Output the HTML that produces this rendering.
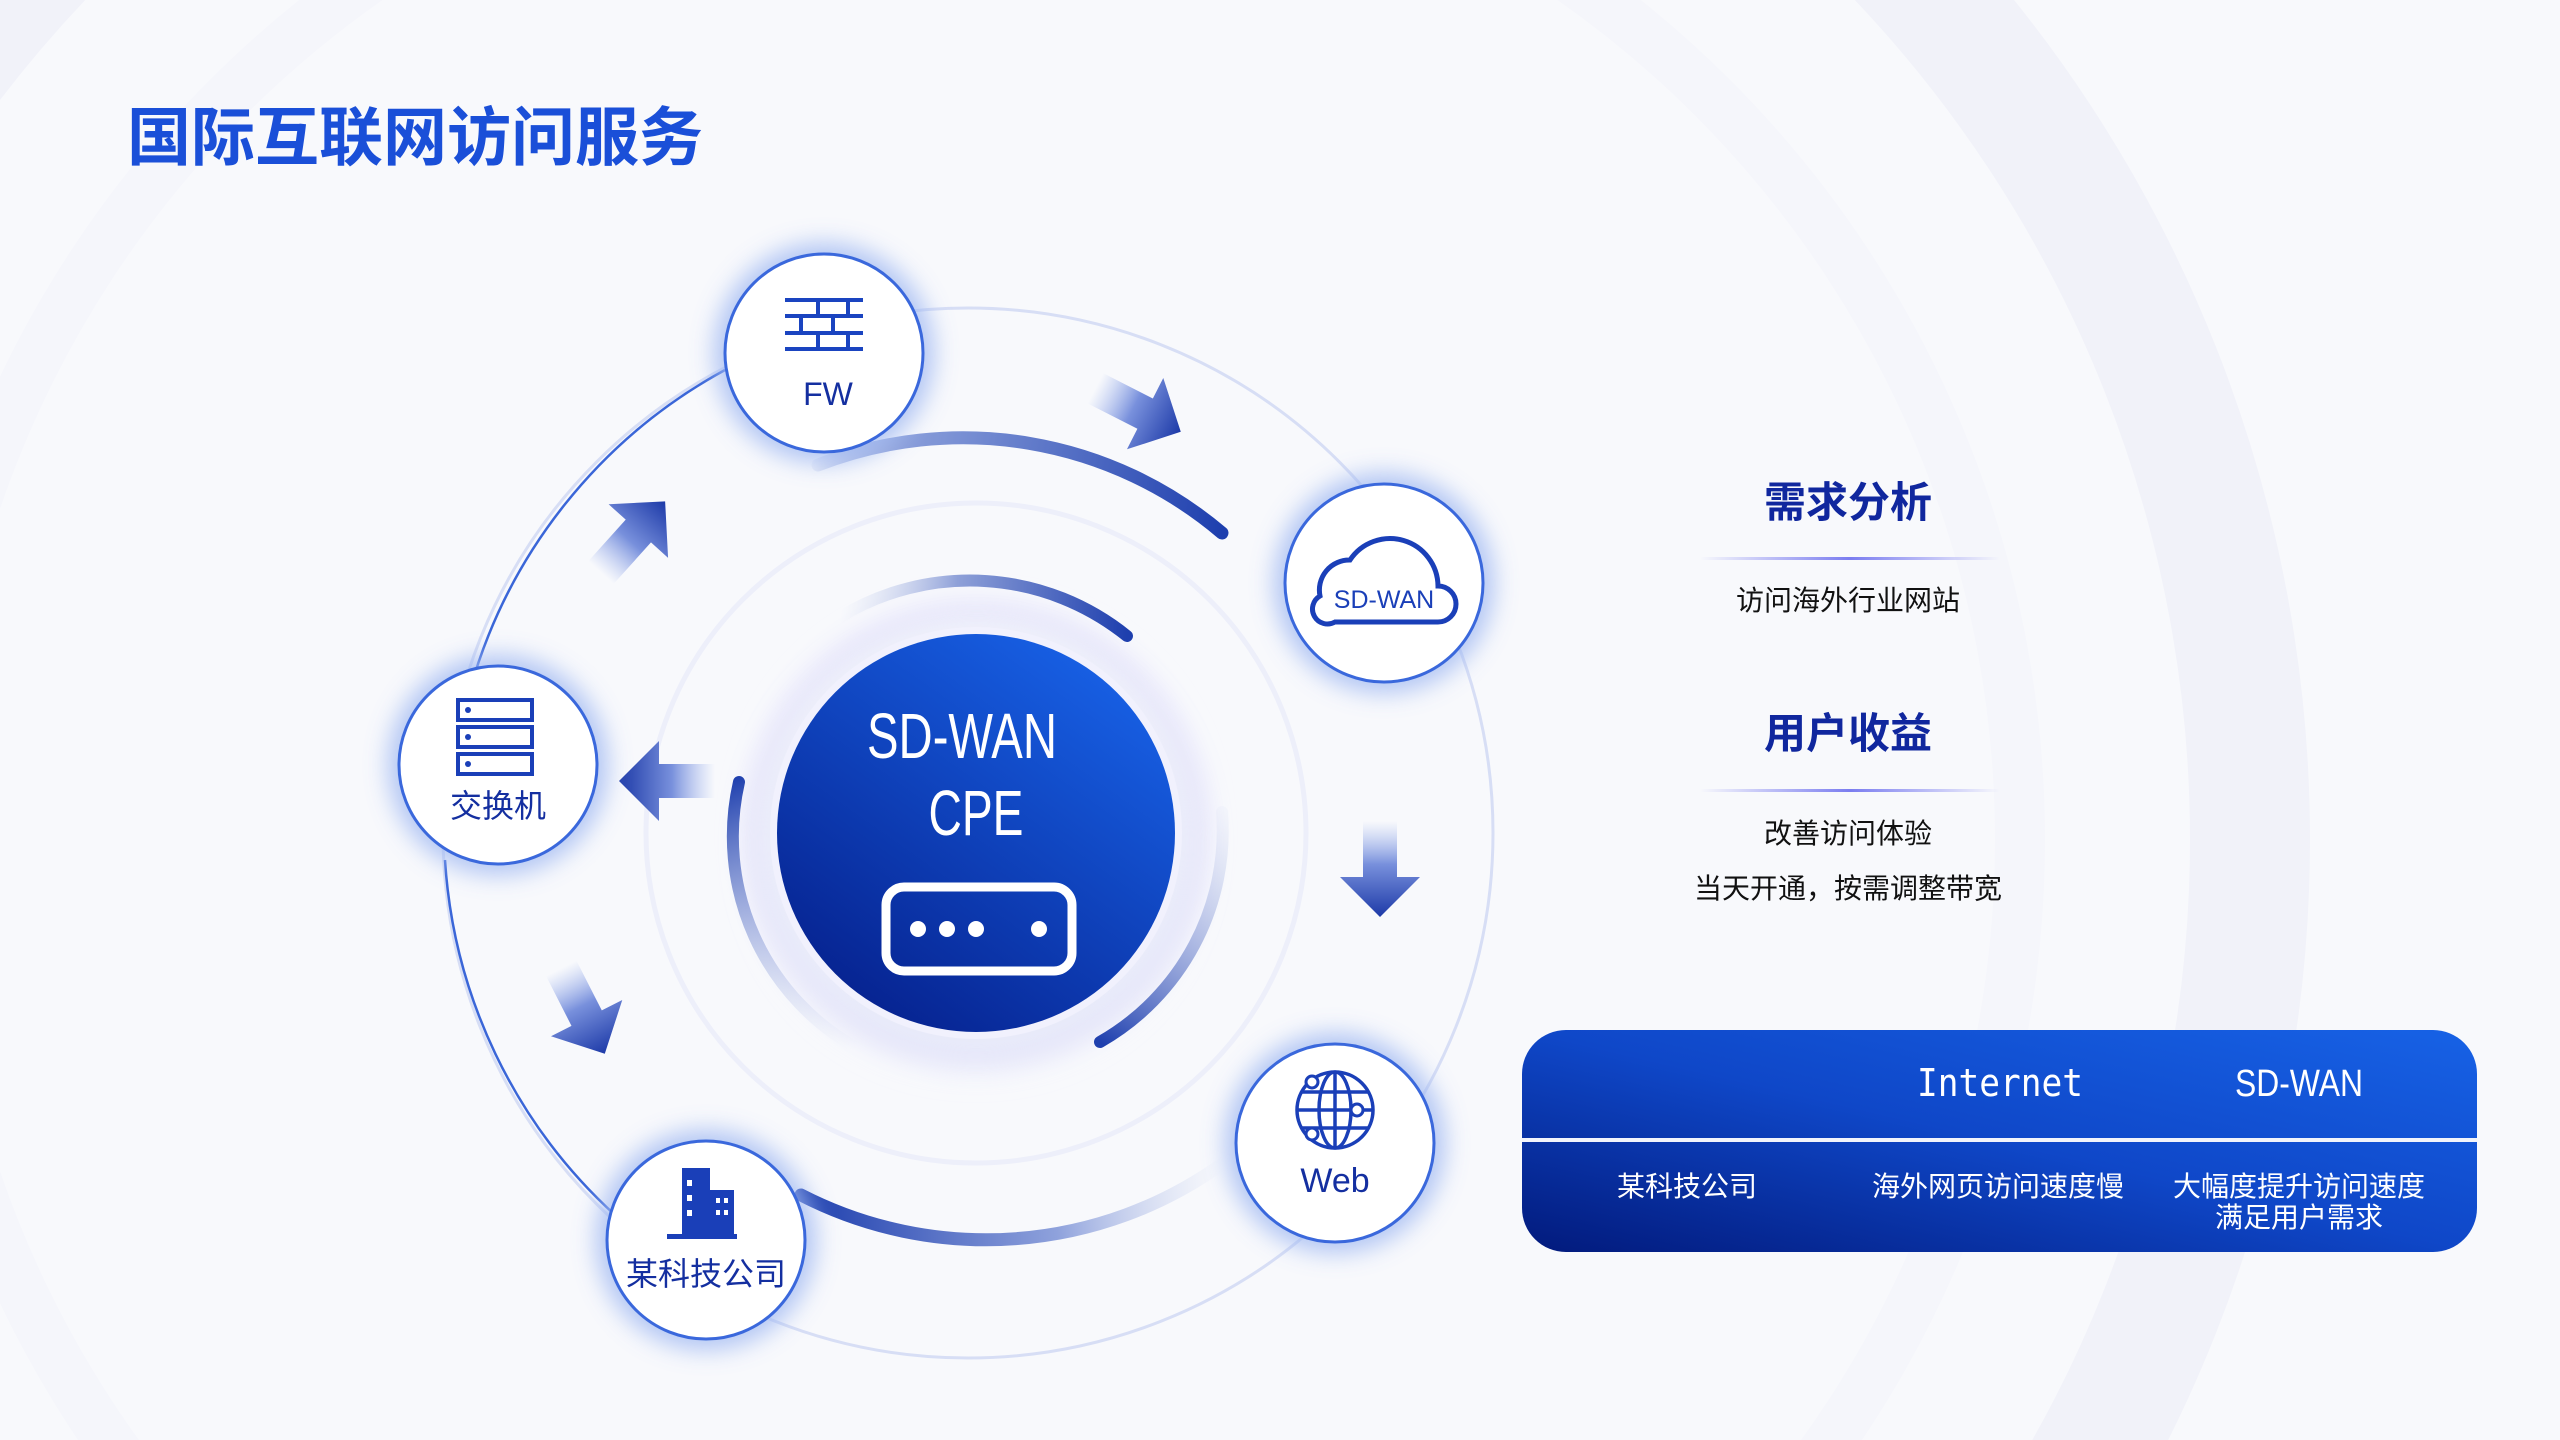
<!DOCTYPE html>
<html><head><meta charset="utf-8"><style>
html,body{margin:0;padding:0;overflow:hidden}
body{width:2560px;height:1440px;overflow:hidden;background:#f8f9fc;font-family:"Liberation Sans","Noto Sans CJK SC",sans-serif;position:relative}
svg{position:absolute;left:0;top:0;display:block}
</style></head><body>
<svg width="2560" height="1440" viewBox="0 0 2560 1440" xmlns="http://www.w3.org/2000/svg" overflow="hidden">
<defs>
<linearGradient id="cpe" x1="0.8" y1="0.1" x2="0.2" y2="0.95"><stop offset="0" stop-color="#175ee2"/><stop offset="1" stop-color="#06228f"/></linearGradient>
<linearGradient id="tbl" x1="0" y1="1" x2="1" y2="0"><stop offset="0" stop-color="#021a7c"/><stop offset="0.5" stop-color="#0f47c8"/><stop offset="1" stop-color="#1762e6"/></linearGradient>
<linearGradient id="arcA" gradientUnits="userSpaceOnUse" x1="809" y1="450" x2="1222" y2="533"><stop offset="0" stop-color="#1e44b8" stop-opacity="0"/><stop offset="0.3" stop-color="#7f95d6"/><stop offset="1" stop-color="#1e3fae"/></linearGradient>
<linearGradient id="arcB" gradientUnits="userSpaceOnUse" x1="801" y1="1195" x2="1222" y2="1164"><stop offset="0" stop-color="#1e3fae"/><stop offset="0.6" stop-color="#8fa2dc"/><stop offset="1" stop-color="#c8d2f0" stop-opacity="0"/></linearGradient>
<linearGradient id="arcC" gradientUnits="userSpaceOnUse" x1="840" y1="617" x2="1127" y2="636"><stop offset="0" stop-color="#d0d8f2" stop-opacity="0"/><stop offset="0.4" stop-color="#8ea0d8"/><stop offset="1" stop-color="#1e3fae"/></linearGradient>
<linearGradient id="arcD" gradientUnits="userSpaceOnUse" x1="730" y1="780" x2="850" y2="1050"><stop offset="0" stop-color="#1e3fae"/><stop offset="1" stop-color="#c8d2f0" stop-opacity="0"/></linearGradient>
<linearGradient id="arcE" gradientUnits="userSpaceOnUse" x1="1100" y1="1042" x2="1226" y2="810"><stop offset="0" stop-color="#1e3fae"/><stop offset="1" stop-color="#c8d2f0" stop-opacity="0.1"/></linearGradient>
<linearGradient id="arr" x1="0" y1="0" x2="1" y2="0"><stop offset="0" stop-color="#9fb4ee" stop-opacity="0"/><stop offset="0.45" stop-color="#7890dc"/><stop offset="1" stop-color="#1d3aa8"/></linearGradient>
<linearGradient id="line" x1="0" y1="0" x2="1" y2="0"><stop offset="0" stop-color="#7b7df0" stop-opacity="0"/><stop offset="0.5" stop-color="#7b7df0"/><stop offset="1" stop-color="#7b7df0" stop-opacity="0"/></linearGradient>
<filter id="blur" x="-50%" y="-50%" width="200%" height="200%"><feGaussianBlur stdDeviation="12"/></filter>
<filter id="blur2" x="-50%" y="-50%" width="200%" height="200%"><feGaussianBlur stdDeviation="20"/></filter>
<g id="arrow"><polygon points="-48,-17 8,-17 8,-40 48,0 8,40 8,17 -48,17" fill="url(#arr)"/></g>
<g id="node"><circle r="110" fill="#9fb8f2" opacity="0.8" filter="url(#blur)"/><circle r="99" fill="#fff" stroke="#3a68dc" stroke-width="3"/></g>
</defs>
<rect width="2560" height="1440" fill="#f8f9fc"/>
<circle cx="970" cy="840" r="1280" fill="none" stroke="#f1f2f9" stroke-width="120"/>
<circle cx="970" cy="840" r="1050" fill="none" stroke="#f5f6fb" stroke-width="50"/>
<text x="127" y="160" font-size="64" font-weight="bold" fill="#1a4fd8">国际互联网访问服务</text>
<circle cx="968" cy="833" r="525" fill="none" stroke="#d7def5" stroke-width="3"/>
<path d="M 470 690 A 525 525 0 0 1 725 370" fill="none" stroke="#3a66d8" stroke-width="2.5"/>
<path d="M 445 860 A 525 525 0 0 0 615 1215" fill="none" stroke="#3a66d8" stroke-width="2.5"/>
<circle cx="976" cy="833" r="330" fill="none" stroke="#edeffa" stroke-width="5"/>
<circle cx="976" cy="833" r="222" fill="none" stroke="#e6e5fb" stroke-width="22" filter="url(#blur)"/>
<circle cx="976" cy="845" r="215" fill="#dfe3f7" opacity="0.6" filter="url(#blur2)"/>
<path d="M 818 465 A 400 400 0 0 1 1222 533" fill="none" stroke="url(#arcA)" stroke-width="13" stroke-linecap="round"/>
<path d="M 801 1195 A 405 405 0 0 0 1222 1164" fill="none" stroke="url(#arcB)" stroke-width="13" stroke-linecap="round"/>
<path d="M 840 617 A 250 250 0 0 1 1127 636" fill="none" stroke="url(#arcC)" stroke-width="12" stroke-linecap="round"/>
<path d="M 739 782 A 243 243 0 0 0 860 1050" fill="none" stroke="url(#arcD)" stroke-width="12" stroke-linecap="round"/>
<path d="M 1100 1042 A 243 243 0 0 0 1222 812" fill="none" stroke="url(#arcE)" stroke-width="12" stroke-linecap="round"/>
<circle cx="976" cy="833" r="206" fill="#f1f1fd"/>
<circle cx="976" cy="833" r="199" fill="url(#cpe)"/>
<text x="962" y="758" font-size="64" fill="#fff" text-anchor="middle" textLength="190" lengthAdjust="spacingAndGlyphs">SD-WAN</text>
<text x="976" y="835" font-size="64" fill="#fff" text-anchor="middle" textLength="95" lengthAdjust="spacingAndGlyphs">CPE</text>
<rect x="886" y="887" width="186" height="84" rx="18" fill="none" stroke="#fff" stroke-width="9"/>
<circle cx="918" cy="929" r="8" fill="#fff"/><circle cx="947" cy="929" r="8" fill="#fff"/><circle cx="976" cy="929" r="8" fill="#fff"/><circle cx="1039" cy="929" r="8" fill="#fff"/>
<use href="#arrow" transform="translate(1138,410) rotate(27)"/>
<use href="#arrow" transform="translate(1380,869) rotate(90)"/>
<use href="#arrow" transform="translate(667,781) rotate(180)"/>
<use href="#arrow" transform="translate(633,537) rotate(-48)"/>
<use href="#arrow" transform="translate(583,1011) rotate(63)"/>
<use href="#node" x="824" y="353"/>
<use href="#node" x="1384" y="583"/>
<use href="#node" x="498" y="765"/>
<use href="#node" x="706" y="1240"/>
<use href="#node" x="1335" y="1143"/>
<g stroke="#1a44c0" stroke-width="4" fill="none">
<path d="M785 300 H863 M785 316 H863 M785 333 H863 M785 349 H863"/>
<path d="M818 300 V316 M848 300 V316 M801 316 V333 M833 316 V333 M818 333 V349 M848 333 V349"/>
</g>
<text x="828" y="405" font-size="32" fill="#142fa0" text-anchor="middle">FW</text>
<g stroke="#1a3fb8" stroke-width="4" fill="none"><rect x="458" y="700" width="74" height="20"/><rect x="458" y="727" width="74" height="20"/><rect x="458" y="754" width="74" height="20"/></g>
<g fill="#1a3fb8"><circle cx="468" cy="710" r="3"/><circle cx="468" cy="737" r="3"/><circle cx="468" cy="764" r="3"/></g>
<text x="498" y="817" font-size="32" fill="#142fa0" text-anchor="middle">交换机</text>
<path d="M1335 622 H1438 A18 18 0 0 0 1438 586 A48 48 0 0 0 1350 560 A30 30 0 0 0 1320 596 A14 14 0 0 0 1335 622 Z" fill="none" stroke="#1a3fb8" stroke-width="5"/>
<text x="1384" y="608" font-size="25" fill="#1a3fb8" text-anchor="middle">SD-WAN</text>
<g stroke="#1a3fb8" stroke-width="3.5" fill="none">
<circle cx="1335" cy="1110" r="38"/><ellipse cx="1335" cy="1110" rx="16" ry="38"/>
<path d="M1297 1110 H1373 M1302 1092 H1368 M1302 1128 H1368 M1335 1072 V1148"/>
</g>
<g fill="#fff" stroke="#1a3fb8" stroke-width="3"><circle cx="1312" cy="1082" r="6"/><circle cx="1357" cy="1110" r="6"/><circle cx="1312" cy="1134" r="6"/></g>
<text x="1335" y="1192" font-size="34" fill="#142fa0" text-anchor="middle">Web</text>
<g fill="#1a3fb8"><rect x="682" y="1168" width="28" height="68"/><rect x="710" y="1190" width="24" height="46"/><rect x="667" y="1234" width="70" height="5"/></g>
<g fill="#fff"><rect x="687" y="1180" width="5" height="6"/><rect x="687" y="1195" width="5" height="6"/><rect x="687" y="1210" width="5" height="6"/><rect x="716" y="1198" width="4" height="5"/><rect x="724" y="1198" width="4" height="5"/><rect x="716" y="1210" width="4" height="5"/><rect x="724" y="1210" width="4" height="5"/></g>
<text x="706" y="1285" font-size="32" fill="#142fa0" text-anchor="middle">某科技公司</text>
<text x="1848" y="517" font-size="42" font-weight="bold" fill="#10279e" text-anchor="middle">需求分析</text>
<rect x="1700" y="557" width="300" height="3" fill="url(#line)"/>
<text x="1848" y="610" font-size="28" fill="#111" text-anchor="middle">访问海外行业网站</text>
<text x="1848" y="748" font-size="42" font-weight="bold" fill="#10279e" text-anchor="middle">用户收益</text>
<rect x="1700" y="789" width="300" height="3" fill="url(#line)"/>
<text x="1848" y="843" font-size="28" fill="#111" text-anchor="middle">改善访问体验</text>
<text x="1848" y="898" font-size="28" fill="#111" text-anchor="middle">当天开通，按需调整带宽</text>
<rect x="1522" y="1030" width="955" height="222" rx="44" fill="url(#tbl)"/>
<rect x="1522" y="1138" width="955" height="4" fill="#f2f4fb"/>
<text x="2000" y="1096" font-size="38" fill="#fff" text-anchor="middle" font-family="DejaVu Sans Mono,monospace" textLength="166" lengthAdjust="spacingAndGlyphs">Internet</text>
<text x="2299" y="1096" font-size="38" fill="#fff" text-anchor="middle" textLength="128" lengthAdjust="spacingAndGlyphs">SD-WAN</text>
<text x="1687" y="1196" font-size="28" fill="#fff" text-anchor="middle">某科技公司</text>
<text x="1998" y="1196" font-size="28" fill="#fff" text-anchor="middle">海外网页访问速度慢</text>
<text x="2299" y="1196" font-size="28" fill="#fff" text-anchor="middle">大幅度提升访问速度</text>
<text x="2299" y="1227" font-size="28" fill="#fff" text-anchor="middle">满足用户需求</text>
</svg>
</body></html>
